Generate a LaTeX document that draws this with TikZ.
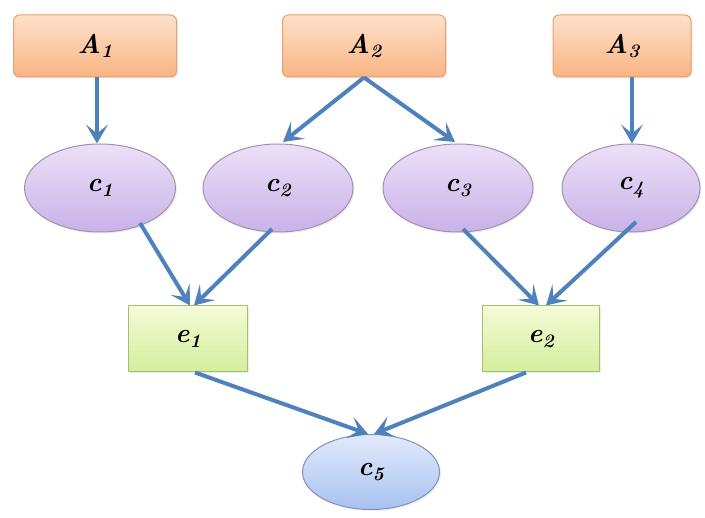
\documentclass[tikz,border=0pt]{standalone}
\usetikzlibrary{arrows.meta,shadows,shapes.geometric}
\definecolor{arr}{HTML}{4F81BD}
\tikzset{
  lbl/.style={font=\fontsize{27}{27}\selectfont\bfseries\itshape, inner sep=0pt},
  abox/.style={lbl, draw={rgb,255:red,232;green,160;blue,112}, line width=1pt, rounded corners=6pt,
    top color={rgb,255:red,253;green,225;blue,203}, bottom color={rgb,255:red,249;green,180;blue,130},
    minimum height=62pt, drop shadow={opacity=0.15, shadow xshift=1.5pt, shadow yshift=-1.5pt}},
  cell/.style={lbl, ellipse, draw={rgb,255:red,160;green,145;blue,180}, line width=1pt,
    top color={rgb,255:red,236;green,224;blue,247}, bottom color={rgb,255:red,201;green,178;blue,232},
    minimum width=151pt, minimum height=88pt, drop shadow={opacity=0.15, shadow xshift=1.5pt, shadow yshift=-1.5pt}},
  ebox/.style={lbl, draw={rgb,255:red,165;green,190;blue,115}, line width=1pt,
    top color={rgb,255:red,244;green,251;blue,214}, bottom color={rgb,255:red,212;green,238;blue,158},
    minimum width=119pt, minimum height=66pt, drop shadow={opacity=0.15, shadow xshift=1.5pt, shadow yshift=-1.5pt}},
  fbox/.style={lbl, ellipse, draw={rgb,255:red,128;green,148;blue,185}, line width=1pt,
    top color={rgb,255:red,226;green,234;blue,252}, bottom color={rgb,255:red,168;green,193;blue,240},
    minimum width=137pt, minimum height=75pt, drop shadow={opacity=0.15, shadow xshift=1.5pt, shadow yshift=-1.5pt}},
  link/.style={draw=arr, line width=4pt, -{Stealth[length=19pt,width=22pt,inset=9pt]}},
}
\newcommand{\lab}[2]{#1\raisebox{-0.4ex}{\fontsize{19}{19}\selectfont #2}}
\begin{document}
\begin{tikzpicture}[x=1pt,y=-1pt]
\useasboundingbox (0,0) rectangle (705,518);
\node[abox, minimum width=163pt] (A1) at (95,46) {\lab{A}{1}};
\node[abox, minimum width=163pt] (A2) at (364,46) {\lab{A}{2}};
\node[abox, minimum width=138pt] (A3) at (622,46) {\lab{A}{3}};
\node[cell] (c1) at (100,188) {\lab{c}{1}};
\node[cell, minimum width=150pt] (c2) at (278,188) {\lab{c}{2}};
\node[cell, minimum width=150pt] (c3) at (458,188) {\lab{c}{3}};
\node[cell, minimum width=138pt] (c4) at (631,188) {\lab{c}{4}};
\node[ebox] (e1) at (188,339) {\lab{e}{1}};
\node[ebox, minimum width=117pt] (e2) at (541,339) {\lab{e}{2}};
\node[fbox] (c5) at (371,472) {\lab{c}{5}};
\draw[link] (A1.south -| 97,0) -- (c1.north -| 97,0);
\draw[link] (A2.south) -- (283,142);
\draw[link] (A2.south) -- (455,142);
\draw[link] (A3.south -| 632,0) -- (c4.north -| 632,0);
\draw[link] (140,223) -- (e1.north -| 190,0);
\draw[link] (272,229) -- (e1.north -| 194,0);
\draw[link] (463,229) -- (e2.north -| 539,0);
\draw[link] (636,222) -- (e2.north -| 546,0);
\draw[link] (e1.south -| 195,0) -- (c5.north -| 368,0);
\draw[link] (e2.south -| 526,0) -- (c5.north -| 374,0);
\end{tikzpicture}
\end{document}
